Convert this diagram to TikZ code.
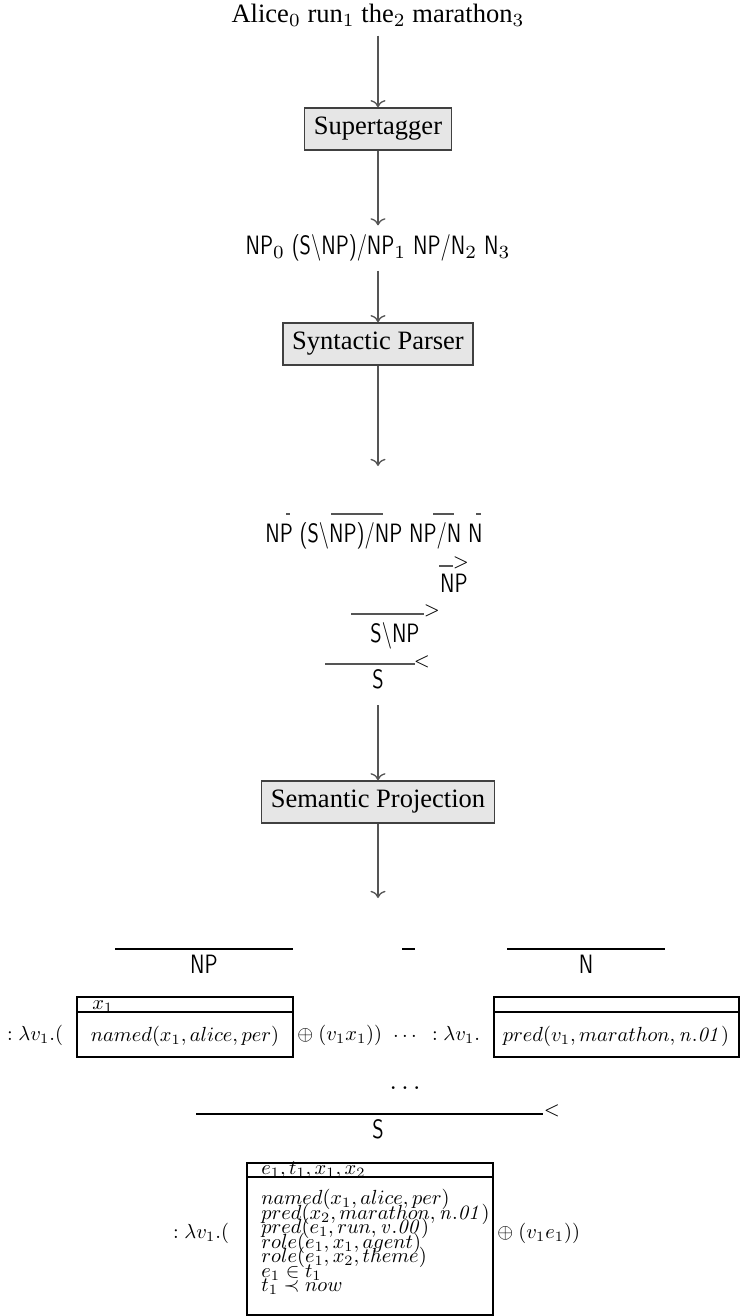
\documentclass[tikz,border=0pt]{standalone}
\usepackage[no-math]{fontspec}
\setmainfont{Liberation Serif}
\newfontfamily\catfont[FakeStretch=0.77]{lmsans10-regular.otf}
\usepackage{tikz}
\usetikzlibrary{arrows.meta,positioning,calc}
\definecolor{StageFill}{HTML}{E6E6E6}
\definecolor{FlowGray}{HTML}{555555}

\begin{document}
\begin{tikzpicture}[
    x=0.377pt, y=-0.377pt,
    stage/.style={draw=black!75, fill=StageFill, line width=0.6pt, inner sep=3.5pt},
    flow/.style={->, draw=FlowGray, line width=0.5pt},
    cat/.style={font=\catfont, inner sep=0pt},
    rule/.style={draw=FlowGray, line width=0.5pt},
    semrule/.style={draw=black, line width=0.45pt},
    ruletag/.style={font=\scriptsize, inner sep=0pt},
    sem/.style={scale=0.77, inner sep=0pt},
    drs/.style={draw=black, line width=0.5pt}
  ]
    \useasboundingbox (0,0) rectangle (742,1316);

    % pipeline
    \node (words) at (378,15) {Alice$_0$ run$_1$ the$_2$ marathon$_3$};
    \node[stage] (tagger) at (378,129) {Supertagger};
    \node[cat, inner sep=3.33pt] (cats) at (378,248) {NP$_0$ (S\textbackslash NP)/NP$_1$ NP/N$_2$ N$_3$};
    \node[stage] (parser) at (378,344) {Syntactic Parser};
    \coordinate (derivtop) at (378,466);
    \node[stage] (proj) at (378,802) {Semantic Projection};
    \coordinate (semtop) at (378,898);

    \draw[flow] (words) -- (tagger);
    \draw[flow] (tagger) -- (cats);
    \draw[flow] (cats) -- (parser);
    \draw[flow] (parser) -- (derivtop);

    % derivation
    \node[cat, anchor=base] (lexrow) at (374,542) {NP (S\textbackslash NP)/NP NP/N N};
    \draw[rule] (286,514) -- (290,514);
    \draw[rule] (331,514) -- (383,514);
    \draw[rule] (433,514) -- (454,514);
    \draw[rule] (476,514) -- (481,514);

    \draw[rule] (439,566) -- (453,566);
    \node[ruletag] (fa1) at (461,563) {$>$};
    \node[cat, anchor=base] (dobj) at (454,592) {NP};

    \draw[rule] (351,614) -- (424,614);
    \node[ruletag] (fa2) at (432,611) {$>$};
    \node[cat, anchor=base] (dvp) at (395,642) {S\textbackslash NP};

    \draw[rule] (325,664) -- (415,664);
    \node[ruletag] (ba1) at (422,662) {$<$};
    \node[cat, anchor=base] (dsent) at (378,688) {S};

    \draw[flow, shorten <=6pt] (dsent) -- (proj);
    \draw[flow] (proj) -- (semtop);

    % semantic derivation
    \draw[semrule] (115,949) -- (293,949);
    \node[cat, anchor=base] (semnp) at (204,973) {NP};
    \draw[semrule] (402,949) -- (415,949);
    \draw[semrule] (507,949) -- (665,949);
    \node[cat, anchor=base] (semn) at (586,973) {N};

    \draw[drs] (77,997) rectangle (293,1057);
    \draw[drs] (77,1012) -- (293,1012);
    \node[sem, anchor=base west] (drsAhead) at (92,1009) {$x_1$};
    \node[sem] (drsAbody) at (185,1036) {$named(x_1, alice, per)$};
    \node[sem] (lamA) at (35,1035) {$:\lambda v_1.($};
    \node[sem, anchor=west] (plusA) at (297,1035) {$\oplus\ (v_1x_1))$};
    \node[sem] (midgap) at (405,1036) {$\ldots$};
    \node[sem] (lamB) at (456,1035) {$:\lambda v_1.$};

    \draw[drs] (494,997) rectangle (739,1057);
    \draw[drs] (494,1012) -- (739,1012);
    \node[sem] (drsBbody) at (616,1036) {$pred(v_1, marathon, \mathit{n.01})$};

    \node (gap) at (405,1088) {$\ldots$};
    \draw[semrule] (196,1114) -- (543,1114);
    \node[ruletag] (ba2) at (552,1111) {$<$};
    \node[cat, anchor=base] (sems) at (378,1138) {S};

    \draw[drs] (247,1163) rectangle (493,1315);
    \draw[drs] (247,1177) -- (493,1177);
    \node[sem, anchor=base west] (drsChead) at (261,1174) {$e_1, t_1, x_1, x_2$};
    \node[sem, anchor=north west, align=left,
          font={\fontsize{10pt}{7.1pt}\selectfont\lineskiplimit=-\maxdimen}] (drsCbody) at (261,1189)
      {$named(x_1, alice, per)$\\
       $pred(x_2, marathon, \mathit{n.01})$\\
       $pred(e_1, run, \mathit{v.00})$\\
       $role(e_1, x_1, agent)$\\
       $role(e_1, x_2, theme)$\\
       $e_1 \in t_1$\\
       $t_1 \prec now$};
    \node[sem] (lamC) at (201,1233) {$:\lambda v_1.($};
    \node[sem, anchor=west] (plusC) at (497,1233) {$\oplus\ (v_1e_1))$};
  \end{tikzpicture}
\end{document}
